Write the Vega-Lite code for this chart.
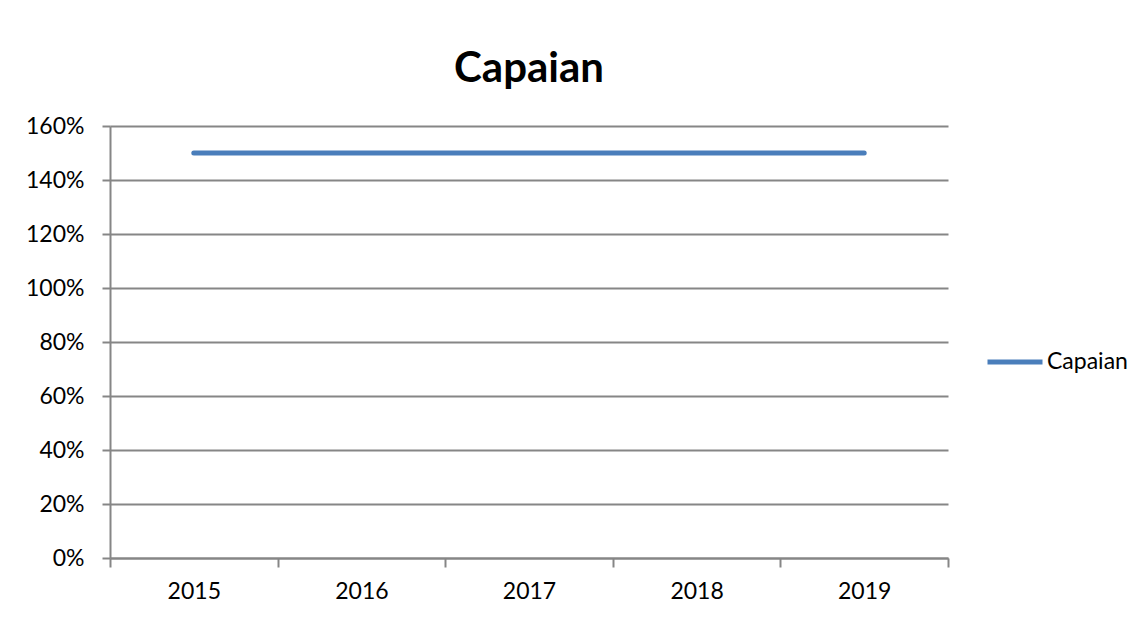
{
  "$schema": "https://vega.github.io/schema/vega-lite/v6.json",
  "autosize": "none",
  "width": 838,
  "height": 432,
  "padding": {"left": 110, "top": 126, "right": 199, "bottom": 59},
  "background": "white",
  "title": {
    "text": "Capaian",
    "font": "Lato",
    "fontSize": 42,
    "fontWeight": "bold",
    "color": "#000000",
    "anchor": "middle",
    "offset": 24
  },
  "data": {
    "values": [
      {"year": "2015", "series": "Capaian", "value": 1.5},
      {"year": "2016", "series": "Capaian", "value": 1.5},
      {"year": "2017", "series": "Capaian", "value": 1.5},
      {"year": "2018", "series": "Capaian", "value": 1.5},
      {"year": "2019", "series": "Capaian", "value": 1.5}
    ]
  },
  "mark": {"type": "line", "strokeWidth": 5, "strokeCap": "round"},
  "encoding": {
    "x": {
      "field": "year",
      "type": "ordinal",
      "scale": {"type": "band", "paddingInner": 0, "paddingOuter": 0},
      "axis": {
        "title": null,
        "labelAngle": 0,
        "tickBand": "extent",
        "grid": false,
        "domainColor": "#868686",
        "domainWidth": 2,
        "tickColor": "#868686",
        "tickWidth": 2,
        "tickSize": 9,
        "labelPadding": 13,
        "labelFont": "Lato",
        "labelFontSize": 23,
        "labelColor": "#000000"
      }
    },
    "y": {
      "field": "value",
      "type": "quantitative",
      "scale": {"domain": [0, 1.6], "nice": false},
      "axis": {
        "title": null,
        "format": ".0%",
        "values": [0, 0.2, 0.4, 0.6, 0.8, 1.0, 1.2, 1.4, 1.6],
        "grid": true,
        "gridColor": "#868686",
        "gridWidth": 2,
        "domainColor": "#868686",
        "domainWidth": 2,
        "tickColor": "#868686",
        "tickWidth": 2,
        "tickSize": 8,
        "labelPadding": 18,
        "labelFont": "Lato",
        "labelFontSize": 23,
        "labelColor": "#000000"
      }
    },
    "color": {
      "field": "series",
      "type": "nominal",
      "scale": {"range": ["#4a7ebb"]},
      "legend": {
        "title": null,
        "orient": "none",
        "legendX": 875,
        "legendY": 206,
        "symbolType": "stroke",
        "symbolSize": 3025,
        "symbolStrokeWidth": 5,
        "labelOffset": 2,
        "labelFont": "Lato",
        "labelFontSize": 23,
        "labelColor": "#000000"
      }
    }
  },
  "config": {"view": {"stroke": null}}
}
